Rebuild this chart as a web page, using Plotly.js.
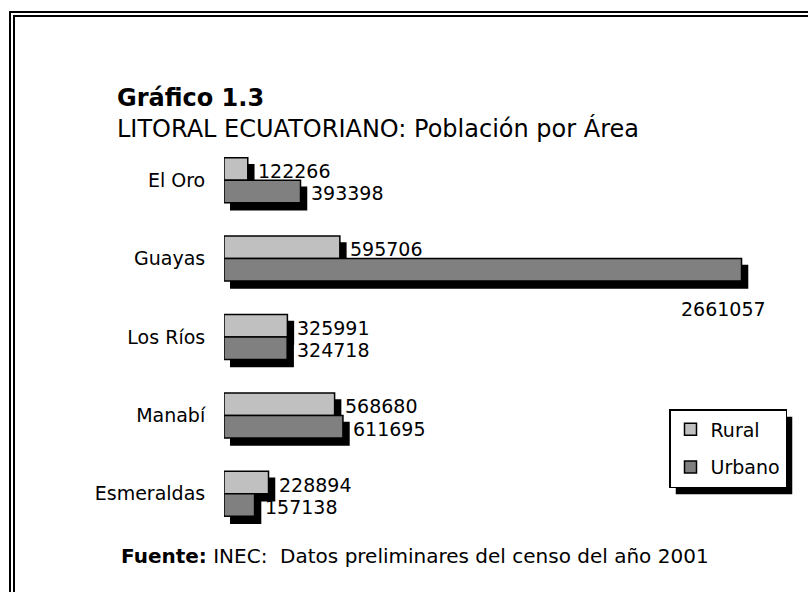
<!DOCTYPE html>
<html><head><meta charset="utf-8">
<script src="https://cdn.plot.ly/plotly-3.0.1.min.js"></script>
<style>html,body{margin:0;padding:0;background:#fff}</style>
</head><body><div id="chart" style="width:808px;height:592px"></div>
<script>
// ---- data ----
const categories = ['El Oro', 'Guayas', 'Los Ríos', 'Manabí', 'Esmeraldas'];
const rural = [122266, 595706, 325991, 568680, 228894];
const urbano = [393398, 2661057, 324718, 611695, 157138];
const seriesNames = ['Rural', 'Urbano'];
const titleText = 'Gráfico 1.3';
const subtitleText = 'LITORAL ECUATORIANO: Población por Área';
const sourceLabel = 'Fuente:';
const sourceText = 'INEC:  Datos preliminares del censo del año 2001';

// ---- layout helpers ----
const W = 808, H = 592;
const px = v => v / W;
const py = v => 1 - v / H;
const plotL = 224, plotR = 774, plotT = 141, plotB = 533;
const shX = 6, shY = 7;
const xMax = 2828000;
const bargap = 0.426;
const FONT = 'DejaVu Sans, Verdana, sans-serif';
const barLine = {color: '#000', width: 1.5};

const series = [rural, urbano];
const colors = ['#c0c0c0', '#808080'];

const traces = [];
// shadows (drawn first, on shifted subplot)
series.forEach((vals, k) => {
  traces.push({
    type: 'bar', orientation: 'h', y: categories, x: vals,
    xaxis: 'x', yaxis: 'y', showlegend: false, hoverinfo: 'skip',
    marker: {color: '#000', line: {color: '#000', width: barLine.width}}
  });
});
// main bars
series.forEach((vals, k) => {
  traces.push({
    type: 'bar', orientation: 'h', y: categories, x: vals,
    name: seriesNames[k], legendgroup: seriesNames[k],
    xaxis: 'x2', yaxis: 'y2',
    marker: {color: colors[k], line: barLine}
  });
});

// value labels
const w = (1 - bargap) / 2;
const annotations = [];
series.forEach((vals, k) => {
  vals.forEach((v, i) => {
    const yPos = i + (k === 0 ? -w / 2 : w / 2);
    const tooLong = v / xMax > 0.85;
    annotations.push({
      xref: 'x2', yref: 'y2', x: v, y: yPos, text: String(v),
      showarrow: false, xanchor: tooLong ? 'right' : 'left', yanchor: 'middle',
      xshift: tooLong ? 26 : 8, yshift: tooLong ? -39 : -2,
      font: {family: FONT, size: 19, color: '#000'}
    });
  });
});
annotations.push({
  xref: 'paper', yref: 'paper', x: px(119), y: py(556),
  xanchor: 'left', yanchor: 'middle', showarrow: false,
  text: '<b>' + sourceLabel + '</b> ' + sourceText,
  font: {family: FONT, size: 20, color: '#000'}
});

const frameShapes = [
  {type: 'rect', xref: 'paper', yref: 'paper', x0: px(10), x1: 1.2, y0: -0.2, y1: py(12),
   line: {color: '#000', width: 2}, fillcolor: 'rgba(0,0,0,0)'},
  {type: 'rect', xref: 'paper', yref: 'paper', x0: px(14), x1: 1.2, y0: -0.2, y1: py(16),
   line: {color: '#000', width: 2}, fillcolor: 'rgba(0,0,0,0)'}
];

const layout = {
  width: W, height: H,
  margin: {l: 0, r: 0, t: 0, b: 0},
  paper_bgcolor: '#fff', plot_bgcolor: 'rgba(0,0,0,0)',
  barmode: 'group', bargap: bargap, bargroupgap: 0,
  font: {family: FONT, color: '#000'},
  title: {
    text: '<b>' + titleText + '</b><br>' + subtitleText,
    font: {family: FONT, size: 24, color: '#000'},
    xref: 'paper', x: px(117), xanchor: 'left',
    yref: 'container', y: py(106), yanchor: 'top'
  },
  xaxis: {domain: [px(plotL + shX), px(plotR + shX)], range: [0, xMax], visible: false, anchor: 'y', fixedrange: true},
  yaxis: {domain: [py(plotB + shY), py(plotT + shY)], type: 'category', categoryarray: categories,
          categoryorder: 'array', range: [4.5, -0.5], visible: false, anchor: 'x', fixedrange: true},
  xaxis2: {domain: [px(plotL), px(plotR)], range: [0, xMax], visible: false, anchor: 'y2', fixedrange: true},
  yaxis2: {domain: [py(plotB), py(plotT)], type: 'category', categoryarray: categories,
           categoryorder: 'array', range: [4.5, -0.5], anchor: 'x2',
           showgrid: false, zeroline: false, showline: false,
           ticks: 'outside', ticklen: 14, tickcolor: 'rgba(0,0,0,0)',
           tickfont: {family: FONT, size: 19, color: '#000'}, fixedrange: true},
  legend: {
    x: px(669), y: py(409), xanchor: 'left', yanchor: 'top',
    bgcolor: '#fff', bordercolor: '#000', borderwidth: 1.5,
    font: {family: FONT, size: 19, color: '#000'},
    traceorder: 'grouped', tracegroupgap: 10
  },
  annotations: annotations,
  shapes: frameShapes,
  showlegend: true
};

Plotly.newPlot('chart', traces, layout, {staticPlot: true, displayModeBar: false}).then(gd => {
  const bg = gd.querySelector('.legend .bg');
  if (!bg) return;
  const r = bg.getBoundingClientRect();
  const c = gd.getBoundingClientRect();
  const l = r.left - c.left, t = r.top - c.top;
  const shadow = {type: 'rect', xref: 'paper', yref: 'paper', layer: 'above',
    x0: px(l + shX), x1: px(l + r.width + shX), y0: py(t + r.height + shY), y1: py(t + shY),
    fillcolor: '#000', line: {width: 0}};
  Plotly.relayout(gd, {shapes: frameShapes.concat([shadow])});
});
</script>
</body></html>
